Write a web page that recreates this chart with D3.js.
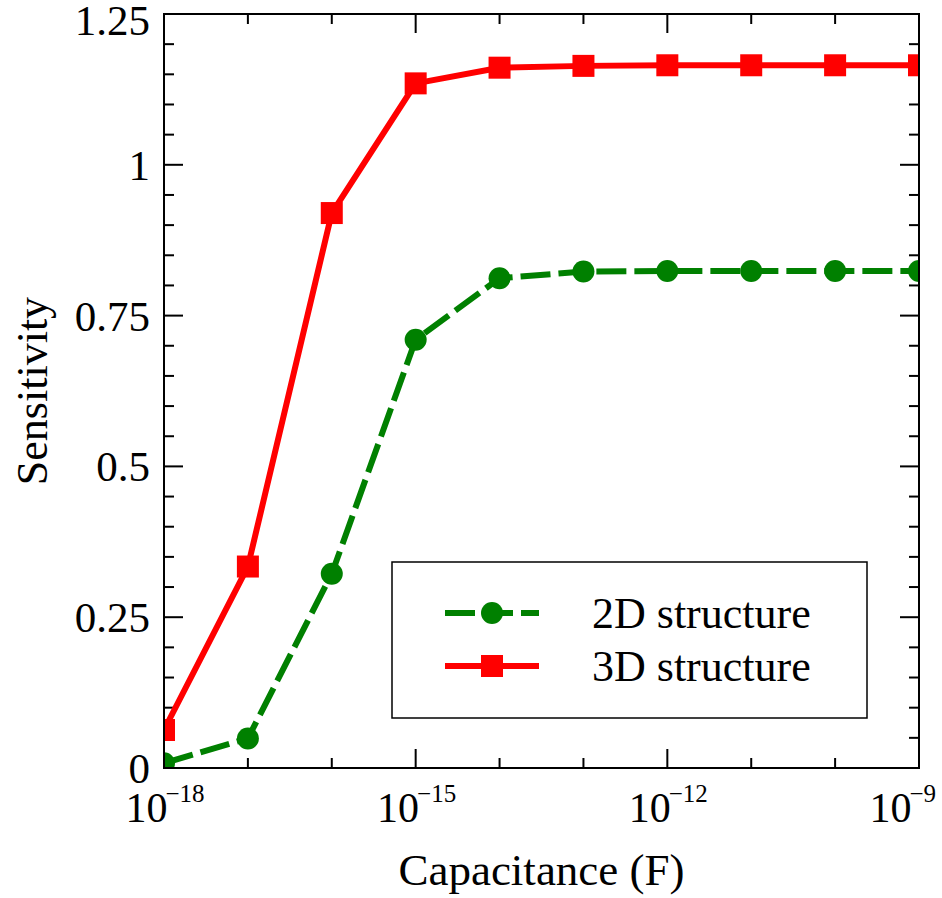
<!DOCTYPE html>
<html>
<head>
<meta charset="utf-8">
<style>
    body { margin: 0; background: #fff; }
    svg text { font-family: "Liberation Serif", "DejaVu Serif", serif; fill: #000; }
</style>
</head>
<body>
<div id="chart"></div>
<script src="https://cdn.jsdelivr.net/npm/d3@7"></script>
<script>
    // data
    var capacitance = [1e-18, 1e-17, 1e-16, 1e-15, 1e-14, 1e-13, 1e-12, 1e-11, 1e-10, 1e-9];
    var sens2D = [0.008, 0.049, 0.322, 0.710, 0.812, 0.823, 0.824, 0.824, 0.824, 0.824];
    var sens3D = [0.063, 0.334, 0.920, 1.135, 1.161, 1.164, 1.165, 1.165, 1.165, 1.165];
    var seriesNames = ["2D structure", "3D structure"];
    var xLabelExps = [-18, -15, -12, -9];
    var yTickVals = [0, 0.25, 0.5, 0.75, 1, 1.25];
    var yTickLabels = ["0", "0.25", "0.5", "0.75", "1", "1.25"];

    var width = 942, height = 898;
    // plot frame (note: "top" is reserved on window, so use p*)
    var pLeft = 164, pRight = 919, pTop = 14, pBottom = 768;

    var svg = d3.select("#chart").append("svg")
        .attr("width", width)
        .attr("height", height);

    var x = d3.scaleLog().domain([1e-18, 1e-9]).range([pLeft, pRight]);
    var y = d3.scaleLinear().domain([0, 1.25]).range([pBottom, pTop]);

    // clip so edge markers get cut by the frame
    svg.append("defs").append("clipPath").attr("id", "plotclip")
        .append("rect")
        .attr("x", pLeft).attr("y", pTop)
        .attr("width", pRight - pLeft).attr("height", pBottom - pTop);

    // ticks: major/minor on all four sides
    var ticks = svg.append("g").attr("stroke", "#000").attr("stroke-width", 2);
    var decades = d3.range(-18, -8);
    decades.forEach(function(e) {
        var len = (e % 3 === 0) ? 19 : 10;
        var xx = x(Math.pow(10, e));
        ticks.append("line").attr("x1", xx).attr("x2", xx).attr("y1", pBottom).attr("y2", pBottom - len);
        ticks.append("line").attr("x1", xx).attr("x2", xx).attr("y1", pTop).attr("y2", pTop + len);
    });
    d3.range(0, 26).forEach(function(i) {
        var v = i * 0.05;
        var len = (i % 5 === 0) ? 19 : 10;
        var yy = y(v);
        ticks.append("line").attr("x1", pLeft).attr("x2", pLeft + len).attr("y1", yy).attr("y2", yy);
        ticks.append("line").attr("x1", pRight).attr("x2", pRight - len).attr("y1", yy).attr("y2", yy);
    });

    // data lines
    var line = d3.line()
        .x(function(d) { return x(d[0]); })
        .y(function(d) { return y(d[1]); });

    var plot = svg.append("g").attr("clip-path", "url(#plotclip)");
    var data2D = capacitance.map(function(c, i) { return [c, sens2D[i]]; });
    var data3D = capacitance.map(function(c, i) { return [c, sens3D[i]]; });

    plot.append("path")
        .attr("d", line(data3D))
        .attr("fill", "none")
        .attr("stroke", "#ff0000")
        .attr("stroke-width", 6)
        .attr("stroke-linejoin", "round");

    plot.selectAll(".sq").data(data3D).enter().append("rect")
        .attr("x", function(d) { return x(d[0]) - 11; })
        .attr("y", function(d) { return y(d[1]) - 11; })
        .attr("width", 22).attr("height", 22)
        .attr("fill", "#ff0000");

    plot.append("path")
        .attr("d", line(data2D))
        .attr("fill", "none")
        .attr("stroke", "#008000")
        .attr("stroke-width", 6)
        .attr("stroke-dasharray", "30,8");

    plot.selectAll(".dot").data(data2D).enter().append("circle")
        .attr("cx", function(d) { return x(d[0]); })
        .attr("cy", function(d) { return y(d[1]); })
        .attr("r", 11)
        .attr("fill", "#008000");

    // frame
    svg.append("rect")
        .attr("x", pLeft).attr("y", pTop)
        .attr("width", pRight - pLeft).attr("height", pBottom - pTop)
        .attr("fill", "none").attr("stroke", "#000").attr("stroke-width", 2);

    // y tick labels
    yTickVals.forEach(function(v, i) {
        svg.append("text")
            .attr("x", 150)
            .attr("y", Math.max(y(v) + 15, 35))
            .attr("text-anchor", "end")
            .style("font-size", "43px")
            .text(yTickLabels[i]);
    });

    // x tick labels 10^e, centred on the tick, kept inside the picture
    xLabelExps.forEach(function(e) {
        var xx = x(Math.pow(10, e));
        var lab = svg.append("text")
            .attr("x", 0).attr("y", 822)
            .style("font-size", "42px");
        lab.append("tspan").text("10");
        lab.append("tspan")
            .attr("dx", -2).attr("dy", -20)
            .style("font-size", "25px")
            .text("\u2212" + Math.abs(e));
        var w = lab.node().getComputedTextLength();
        var x0 = Math.min(xx - w / 2 + 2, 938 - w);
        lab.attr("x", x0);
    });

    // axis titles
    svg.append("text")
        .attr("x", (pLeft + pRight) / 2).attr("y", 885)
        .attr("text-anchor", "middle")
        .style("font-size", "45px")
        .text("Capacitance (F)");

    svg.append("text")
        .attr("transform", "translate(47," + ((pTop + pBottom) / 2) + ") rotate(-90)")
        .attr("text-anchor", "middle")
        .style("font-size", "44px")
        .text("Sensitivity");

    // legend
    var legend = svg.append("g");
    legend.append("rect")
        .attr("x", 392).attr("y", 562)
        .attr("width", 475).attr("height", 156)
        .attr("fill", "#fff").attr("stroke", "#000").attr("stroke-width", 1.5);

    var legY = [613, 666];
    legend.append("line")
        .attr("x1", 445).attr("x2", 539).attr("y1", legY[0]).attr("y2", legY[0])
        .attr("stroke", "#008000").attr("stroke-width", 6).attr("stroke-dasharray", "30,8");
    legend.append("circle").attr("cx", 492).attr("cy", legY[0]).attr("r", 11).attr("fill", "#008000");
    legend.append("line")
        .attr("x1", 445).attr("x2", 539).attr("y1", legY[1]).attr("y2", legY[1])
        .attr("stroke", "#ff0000").attr("stroke-width", 6);
    legend.append("rect").attr("x", 481).attr("y", legY[1] - 11).attr("width", 22).attr("height", 22).attr("fill", "#ff0000");

    seriesNames.forEach(function(name, i) {
        legend.append("text")
            .attr("x", 592).attr("y", legY[i] + 15)
            .style("font-size", "44px")
            .text(name);
    });
</script>
</body>
</html>
